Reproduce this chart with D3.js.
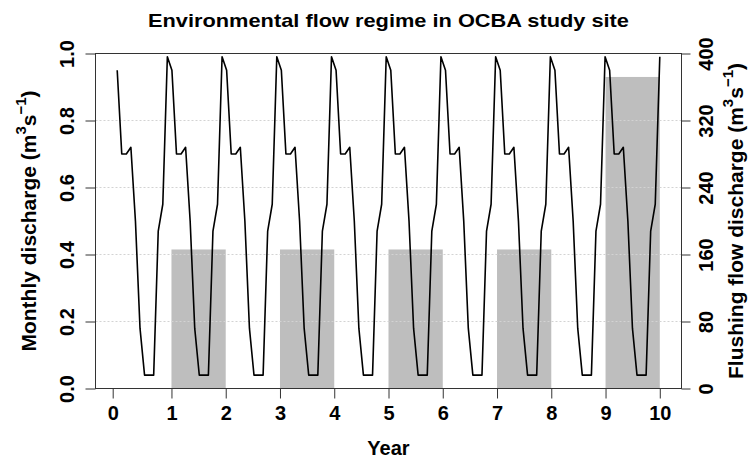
<!DOCTYPE html>
<html>
<head>
<meta charset="utf-8">
<title>Environmental flow regime</title>
<script src="https://cdn.jsdelivr.net/npm/d3@7"></script>
<style>
  body { margin: 0; background: #fff; }
  text { font-family: "Liberation Sans", Arial, sans-serif; font-weight: bold; fill: #000; }
</style>
</head>
<body>
<svg id="chart" width="752" height="462"></svg>
<script>
// monthly discharge (m3/s), one value per month, 10 years
const monthlyDischarge = [
  0.95, 0.70, 0.70, 0.72, 0.50, 0.18, 0.04, 0.04, 0.04, 0.47, 0.55, 0.99,
  0.95, 0.70, 0.70, 0.72, 0.50, 0.18, 0.04, 0.04, 0.04, 0.47, 0.55, 0.99,
  0.95, 0.70, 0.70, 0.72, 0.50, 0.18, 0.04, 0.04, 0.04, 0.47, 0.55, 0.99,
  0.95, 0.70, 0.70, 0.72, 0.50, 0.18, 0.04, 0.04, 0.04, 0.47, 0.55, 0.99,
  0.95, 0.70, 0.70, 0.72, 0.50, 0.18, 0.04, 0.04, 0.04, 0.47, 0.55, 0.99,
  0.95, 0.70, 0.70, 0.72, 0.50, 0.18, 0.04, 0.04, 0.04, 0.47, 0.55, 0.99,
  0.95, 0.70, 0.70, 0.72, 0.50, 0.18, 0.04, 0.04, 0.04, 0.47, 0.55, 0.99,
  0.95, 0.70, 0.70, 0.72, 0.50, 0.18, 0.04, 0.04, 0.04, 0.47, 0.55, 0.99,
  0.95, 0.70, 0.70, 0.72, 0.50, 0.18, 0.04, 0.04, 0.04, 0.47, 0.55, 0.99,
  0.95, 0.70, 0.70, 0.72, 0.50, 0.18, 0.04, 0.04, 0.04, 0.47, 0.55, 0.99
];
// flushing flows: start year of each flush and its discharge
const flushYears = [1, 3, 5, 7, 9];
const flushDischarge = [166, 166, 166, 166, 372];
// axis ticks
const yearTicks = [-0.083, 1, 2, 3, 4, 5, 6, 7, 8, 9, 10];
const yearLabels = ["0", "1", "2", "3", "4", "5", "6", "7", "8", "9", "10"];
const leftTicks = [0, 0.2, 0.4, 0.6, 0.8, 1.0];
const rightTicks = [0, 80, 160, 240, 320, 400];
const gridTicks = [0.2, 0.4, 0.6, 0.8];

const svg = d3.select("#chart");
const L = 95.5, R = 681.5, T = 53.5, B = 388.5;

const x = d3.scaleLinear().domain([-0.4, 10.4]).range([L, R]);
const xm = d3.scaleLinear().domain([1, monthlyDischarge.length]).range([x(0), x(10)]);
const y = d3.scaleLinear().domain([0, 1]).range([B, T]);
const y2 = d3.scaleLinear().domain([0, 400]).range([B, T]);

// flushing flow bars
svg.append("g").selectAll("rect").data(flushYears).enter().append("rect")
  .attr("x", d => x(d))
  .attr("width", d => x(d + 1) - x(d))
  .attr("y", (d, i) => y2(flushDischarge[i]))
  .attr("height", (d, i) => y2(0) - y2(flushDischarge[i]))
  .attr("fill", "#bebebe");

// dotted grid
svg.append("g").selectAll("line").data(gridTicks).enter().append("line")
  .attr("x1", L).attr("x2", R)
  .attr("y1", d => y(d)).attr("y2", d => y(d))
  .attr("stroke", "#d3d3d3").attr("stroke-dasharray", "2,2");

// monthly line
const line = d3.line().x((d, i) => xm(i + 1)).y(d => y(d));
svg.append("path").datum(monthlyDischarge)
  .attr("d", line).attr("fill", "none")
  .attr("stroke", "#000").attr("stroke-width", 1.6).attr("stroke-linejoin", "round");

// box
svg.append("rect").attr("x", L).attr("y", T).attr("width", R - L).attr("height", B - T)
  .attr("fill", "none").attr("stroke", "#333");

// axes
function styleAxis(g) {
  g.select(".domain").remove();
  g.selectAll("line").attr("stroke", "#333");
  g.selectAll("text").attr("font-size", 20).attr("fill", "#000")
    .style("font-family", "'Liberation Sans', Arial, sans-serif").style("font-weight", "bold");
}

const gx = svg.append("g").attr("transform", "translate(0," + B + ")")
  .call(d3.axisBottom(x).tickValues(yearTicks).tickFormat((d, i) => yearLabels[i]).tickSize(10))
  .call(styleAxis);
gx.selectAll("text").attr("y", 31).attr("dy", 0);

const gl = svg.append("g").attr("transform", "translate(" + L + ",0)")
  .call(d3.axisLeft(y).tickValues(leftTicks).tickFormat(d3.format(".1f")).tickSize(10))
  .call(styleAxis);
gl.selectAll("text").attr("transform", "rotate(-90)").attr("x", 0).attr("y", -22)
  .attr("dy", 0).attr("text-anchor", "middle");

const gr = svg.append("g").attr("transform", "translate(" + R + ",0)")
  .call(d3.axisRight(y2).tickValues(rightTicks).tickSize(9))
  .call(styleAxis);
gr.selectAll("text").attr("transform", "rotate(-90)").attr("x", 0).attr("y", 31)
  .attr("dy", 0).attr("text-anchor", "middle");

// titles
svg.append("text").attr("x", (L + R) / 2).attr("y", 27).attr("text-anchor", "middle")
  .attr("font-size", 19).attr("textLength", 481).attr("lengthAdjust", "spacingAndGlyphs")
  .text("Environmental flow regime in OCBA study site");

svg.append("text").attr("x", (L + R) / 2).attr("y", 455).attr("text-anchor", "middle")
  .attr("font-size", 20).text("Year");

function unitTitle(xPos, label) {
  const t = svg.append("text").attr("transform", "translate(" + xPos + "," + (T + B) / 2 + ") rotate(-90)")
    .attr("text-anchor", "middle").attr("font-size", 21);
  t.append("tspan").text(label + " (m");
  t.append("tspan").attr("dy", -10).attr("font-size", 15).text("3");
  t.append("tspan").attr("dy", 10).text("s");
  t.append("tspan").attr("dy", -10).attr("font-size", 15).text("\u22121");
  t.append("tspan").attr("dy", 10).text(")");
}
unitTitle(36, "Monthly discharge");
unitTitle(743, "Flushing flow discharge");
</script>
</body>
</html>
